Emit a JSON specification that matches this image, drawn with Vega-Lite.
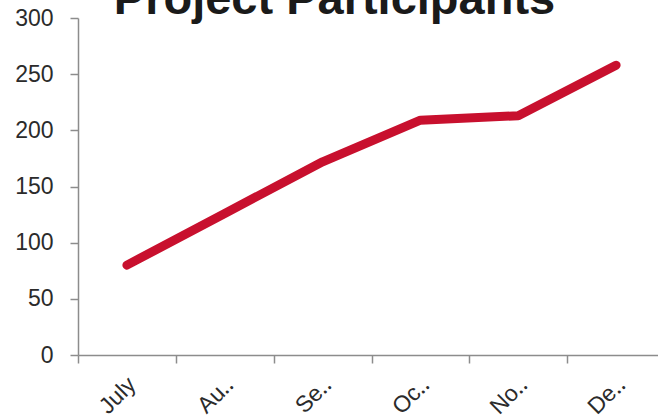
{
  "$schema": "https://vega.github.io/schema/vega-lite/v6.json",
  "autosize": {"type": "none"},
  "padding": {"left": 78, "top": 18, "right": 0, "bottom": 65},
  "width": 587,
  "height": 337,
  "background": "white",
  "title": {
    "text": "Project Participants",
    "font": "Liberation Sans",
    "fontSize": 47,
    "fontWeight": "bold",
    "color": "#1a1a1a",
    "anchor": "middle",
    "frame": "group",
    "dx": -37,
    "dy": 21
  },
  "data": {
    "values": [
      {"month": "July", "participants": 80},
      {"month": "August", "participants": 126},
      {"month": "September", "participants": 172},
      {"month": "October", "participants": 209},
      {"month": "November", "participants": 213},
      {"month": "December", "participants": 258}
    ]
  },
  "config": {
    "view": {"stroke": null},
    "axis": {
      "labelFont": "Liberation Sans",
      "labelFontSize": 23,
      "labelColor": "#2b2b2b",
      "domainColor": "#8c8c8c",
      "tickColor": "#8c8c8c",
      "domainWidth": 1.5,
      "tickWidth": 1.5,
      "tickSize": 8,
      "grid": false,
      "title": null
    }
  },
  "mark": {"type": "line", "color": "#C8102E", "strokeWidth": 9, "strokeCap": "round", "strokeJoin": "round"},
  "encoding": {
    "x": {
      "field": "month",
      "type": "nominal",
      "sort": null,
      "bandPosition": 0.5,
      "scale": {"type": "band", "paddingInner": 0, "paddingOuter": 0},
      "axis": {
        "labelAngle": -45,
        "labelPadding": 10,
        "labelOffset": -3,
        "tickBand": "extent",
        "labelExpr": "datum.label == '' ? '' : datum.label == 'July' ? 'July' : slice(datum.label, 0, 2) + '‥'"
      }
    },
    "y": {
      "field": "participants",
      "type": "quantitative",
      "scale": {"domain": [0, 300], "nice": false},
      "axis": {"values": [0, 50, 100, 150, 200, 250, 300], "labelPadding": 17}
    }
  }
}
